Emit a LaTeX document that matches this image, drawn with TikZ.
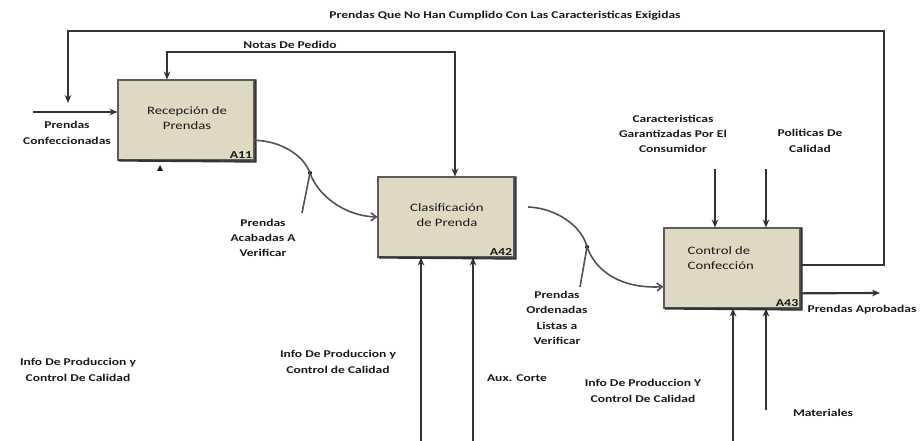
\documentclass[tikz,border=0pt]{standalone}
\usepackage{fontspec}
\setmainfont{Carlito}
\newfontfamily\lblfont[FakeStretch=1.3]{Carlito}
\usetikzlibrary{arrows.meta,calc}
\definecolor{boxfill}{HTML}{DDD9C3}
\definecolor{ink}{HTML}{333333}
\definecolor{txt}{HTML}{1A1A1A}
\tikzset{
  procbox/.style={draw=ink!80, line width=0.8pt, fill=boxfill,
    minimum width=102pt, minimum height=60pt, inner sep=0pt},
  boxtext/.style={font=\lblfont\fontsize{8.5}{11.5}\selectfont, text=txt, align=center},
  boxid/.style={font=\lblfont\bfseries\fontsize{8}{9}\selectfont, text=txt, inner sep=1.5pt},
  lbl/.style={font=\lblfont\bfseries\fontsize{7.8}{11.5}\selectfont, text=txt, align=center, inner sep=0pt},
  flow/.style={draw=ink, line width=2.2pt, -{Stealth[length=6pt,width=5pt]}},
  loopline/.style={draw=ink, line width=1.6pt, -{Stealth[length=6pt,width=5pt]}},
  curvy/.style={draw=ink!85, line width=1.2pt, -{Straight Barb[length=4pt,width=6pt]}},
  tail/.style={draw=ink!85, line width=1.2pt},
  dot/.style={circle, fill=black, inner sep=0pt, minimum size=3pt}
}
\newcommand{\shadowbox}[1]{%
  \draw[ink, line width=1.6pt] ([xshift=1pt]#1.south west) -- ([xshift=0.8pt,yshift=-0.8pt]#1.south east) -- ([xshift=0.8pt]#1.north east);}
\begin{document}
\begin{tikzpicture}[x=0.75pt,y=-0.75pt]
\useasboundingbox (0,0) rectangle (924,441);

% activity boxes
\node[procbox] (b1) at (186,120) {};
\node[procbox] (b2) at (446,217) {};
\node[procbox] (b3) at (732,268) {};
\shadowbox{b1}\shadowbox{b2}\shadowbox{b3}

\node[boxtext] (t1) at (187,118) {Recepción de\\Prendas};
\node[boxtext] (t2) at (447,215) {Clasificación\\de Prenda};
\node[boxtext, align=left, anchor=west] (t3) at (683,258) {Control de\\Confección};

\node[boxid, anchor=south east] (id1) at (b1.south east) {A11};
\node[boxid, anchor=south east] (id2) at (b2.south east) {A42};
\node[boxid, anchor=south east] (id3) at (b3.south east) {A43};

% small tunnel mark under the first box
\fill[txt] (157,171) -- (163,171) -- (160,165) -- cycle;

% feedback of rejected garments
\coordinate (fbR) at (884,31);
\coordinate (fbL) at (68,31);
\coordinate (fbEnd) at (68,103);
\draw[loopline] ([yshift=2pt]b3.east) -| (fbR) -- (fbL) -- (fbEnd);
\node[lbl] (lfb) at (505,16) {Prendas Que No Han Cumplido Con Las Caracteristicas Exigidas};

% incoming garments
\coordinate (inStart) at (33,112);
\draw[flow, line width=1.6pt] (inStart) -- (b1.west |- inStart);
\node[lbl] (lin) at (67,133) {Prendas\\Confeccionadas};

% order notes
\coordinate (npL) at (167,52);
\coordinate (npR) at (455,52);
\draw[loopline, {Stealth[length=6pt,width=5pt]}-{Stealth[length=6pt,width=5pt]}]
  (npL |- b1.north) -- (npL) -- (npR) -- (npR |- b2.north);
\node[lbl] (lnp) at (290,45) {Notas De Pedido};

% finished garments to check
\coordinate (s1) at ($(b1.north east)!0.75!(b1.south east)$);
\node[dot] (d1) at (310,173) {};
\coordinate (tl1) at (302,213);
\draw[curvy] (s1) .. controls (282,141) and (304,156) .. (d1.center)
  .. controls (318,196) and (345,216) .. (b2.west);
\draw[tail] (tl1) -- (d1.center);
\node[lbl] (la) at (263,238) {Prendas\\Acabadas A\\Verificar};

% sorted garments to check
\coordinate (s2) at (528,207);
\node[dot] (d2) at (587,247) {};
\coordinate (tl2) at (580,287);
\draw[curvy] (s2) .. controls (556,208) and (582,226) .. (d2.center)
  .. controls (596,272) and (622,289) .. ([yshift=-14pt]b3.west);
\draw[tail] (tl2) -- (d2.center);
\node[lbl] (lo) at (557,318) {Prendas\\Ordenadas\\Listas a\\Verificar};

% controls of quality check
\coordinate (ct1) at (715,169);
\coordinate (ct2) at (766,169);
\draw[flow] (ct1) -- (ct1 |- b3.north);
\draw[flow] (ct2) -- (ct2 |- b3.north);
\node[lbl] (lc1) at (673,134) {Caracteristicas\\Garantizadas Por El\\Consumidor};
\node[lbl] (lc2) at (810,141) {Politicas De\\Calidad};

% approved output
\coordinate (outEnd) at (880,293);
\draw[loopline] ([yshift=-19pt]b3.east) -- (outEnd);
\node[lbl] (lout) at (862,310) {Prendas Aprobadas};

% mechanisms
\coordinate (m1) at (421,441);
\coordinate (m2) at (473,441);
\coordinate (m3) at (733,441);
\coordinate (m4) at (766,410);
\draw[flow] (m1) -- (m1 |- b2.south);
\draw[flow] (m2) -- (m2 |- b2.south);
\draw[flow] (m3) -- (m3 |- b3.south);
\draw[flow] (m4) -- (m4 |- b3.south);

\node[lbl] (li1) at (78,370) {Info De Produccion y\\Control De Calidad};
\node[lbl] (li2) at (338,362) {Info De Produccion y\\Control de Calidad};
\node[lbl] (laux) at (517,378) {Aux. Corte};
\node[lbl] (li3) at (643,391) {Info De Produccion Y\\Control De Calidad};
\node[lbl] (lmat) at (823,413) {Materiales};
\end{tikzpicture}
\end{document}
